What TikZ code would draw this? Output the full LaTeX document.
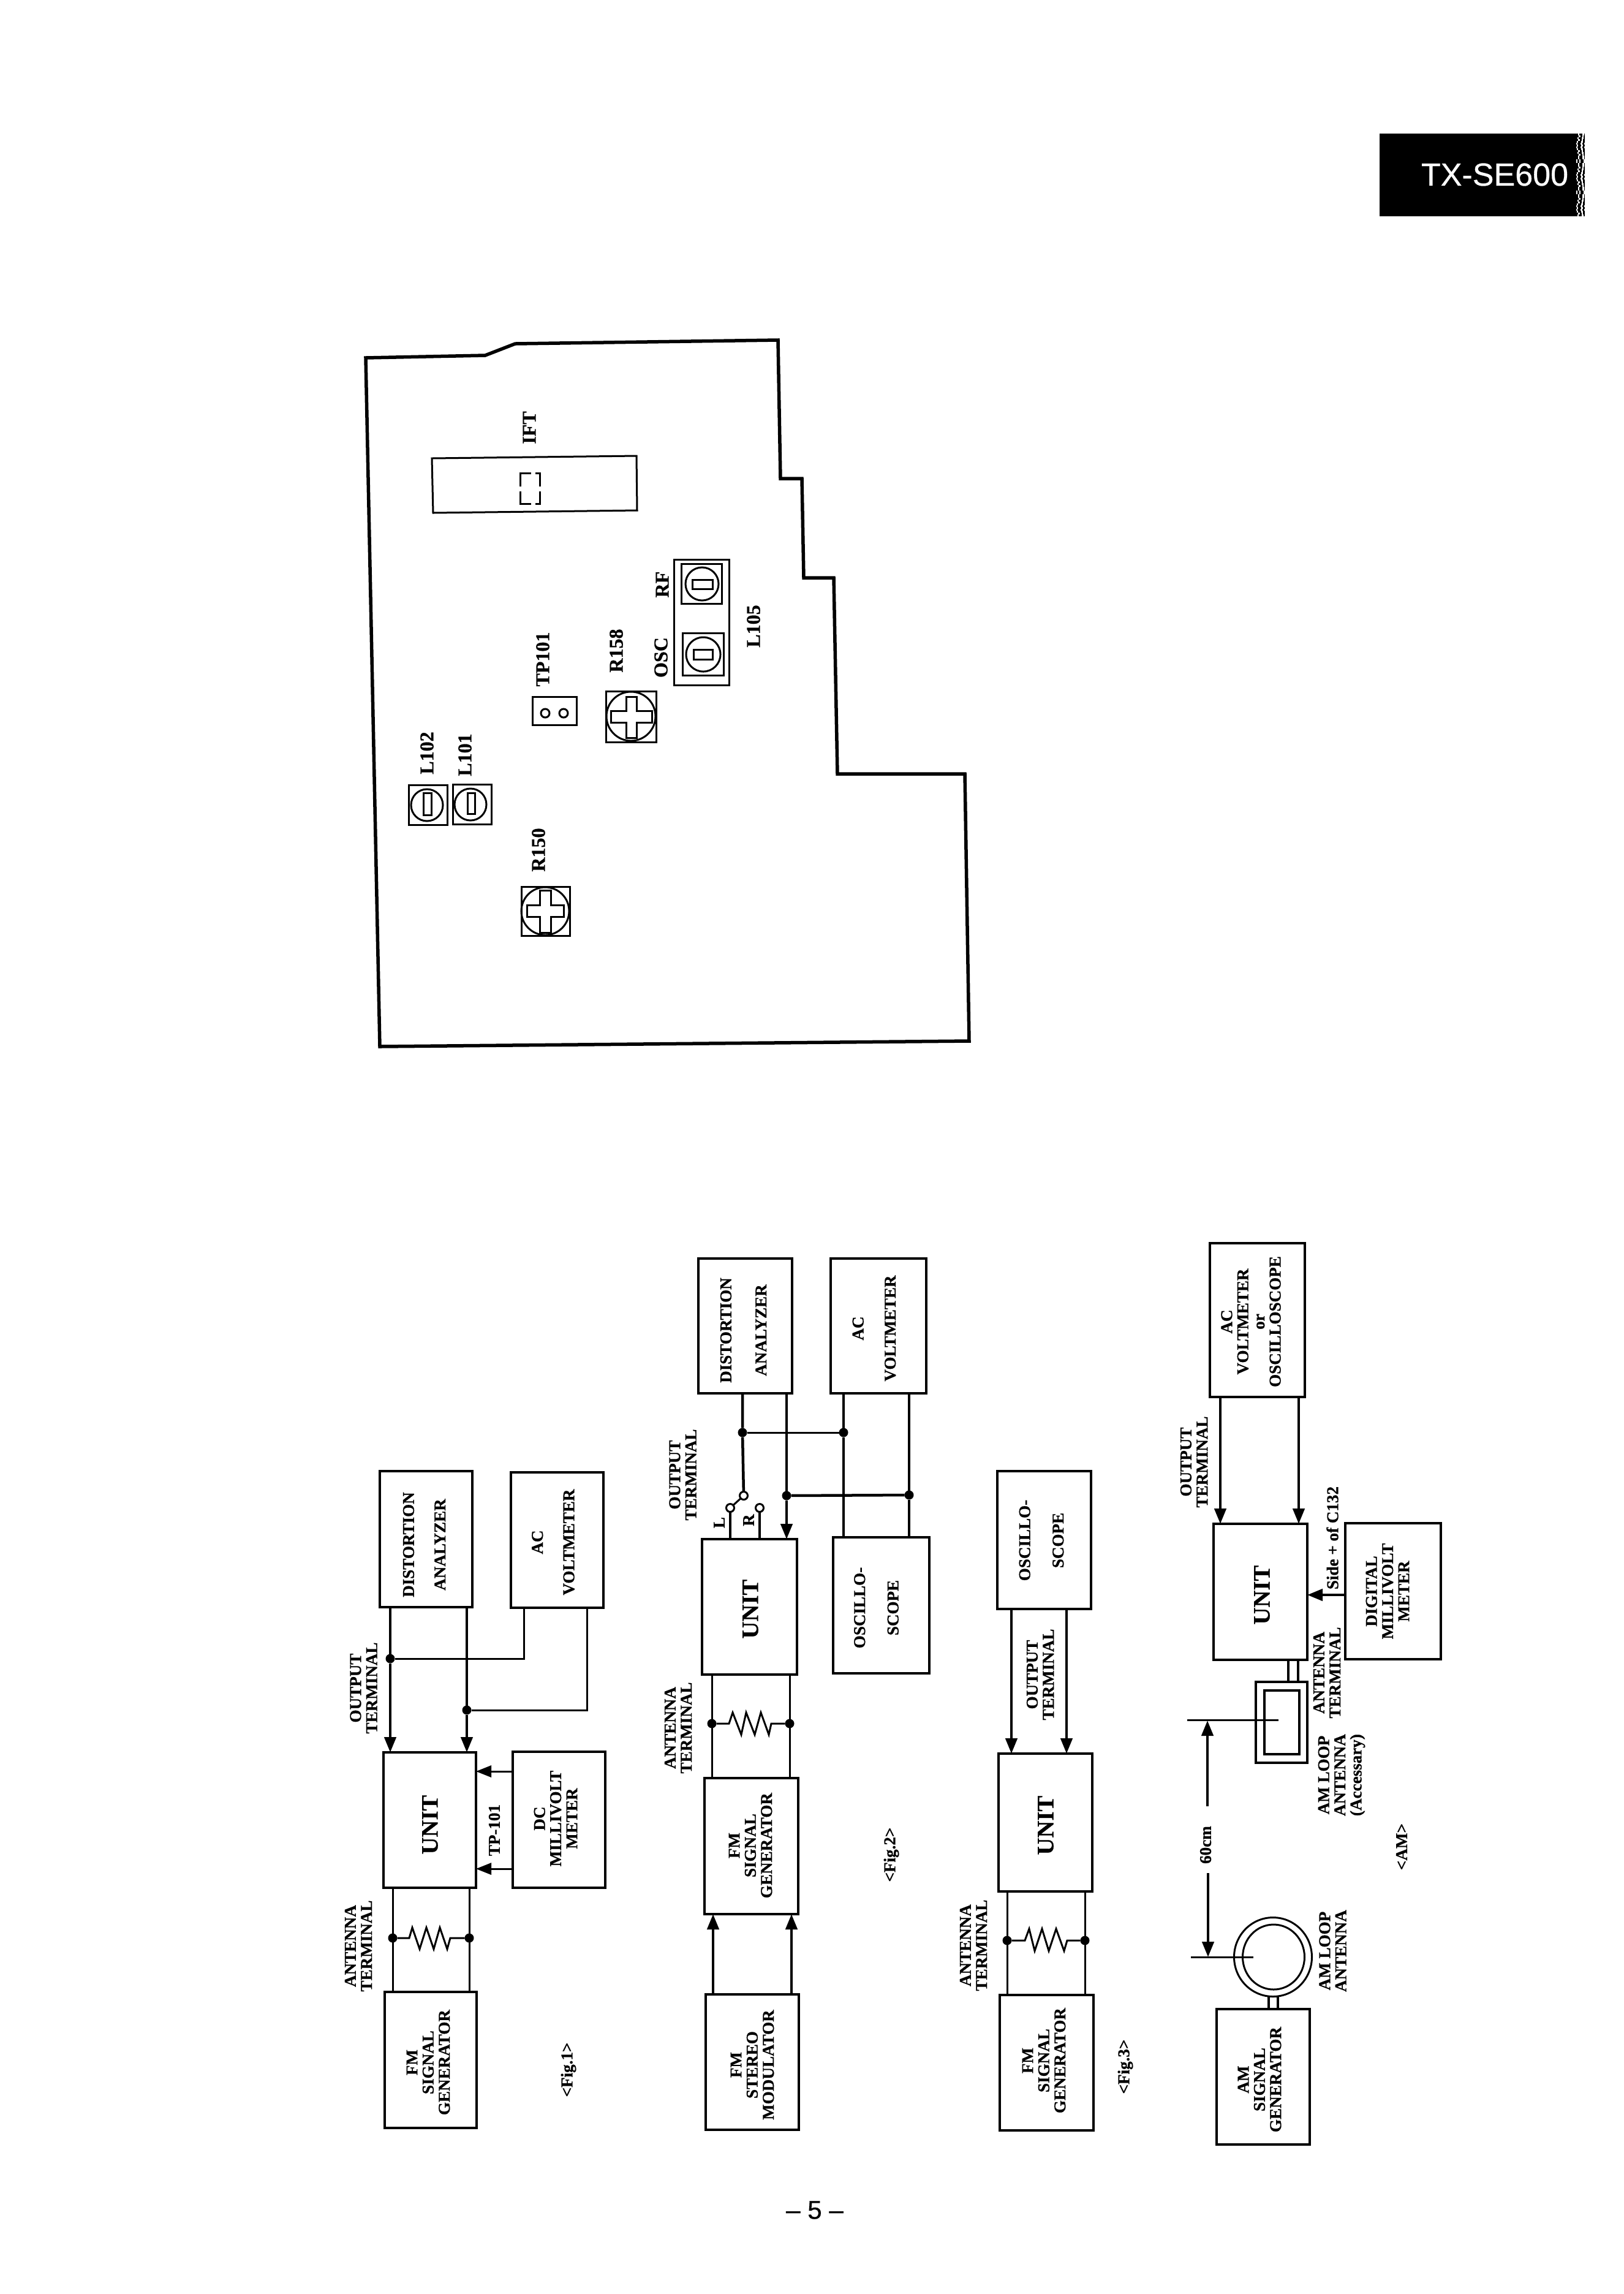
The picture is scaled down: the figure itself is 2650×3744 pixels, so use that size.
\documentclass[tikz,border=0pt]{standalone}
\usepackage{fontspec}
\setmainfont[BoldFeatures={FakeBold=0.7}]{Liberation Serif}
\newfontfamily\hdrfont[FakeBold=0.5]{Liberation Sans}
\usetikzlibrary{arrows.meta}
\tikzset{
  blk/.style={draw,line width=0.035cm,rectangle,inner sep=0pt,outer sep=0pt,fill=white},
  wire/.style={line width=0.045cm},
  thin wire/.style={line width=0.03cm},
  headed/.style={-{Triangle[length=0.25cm,width=0.19cm]}},
  dot/.style={circle,fill=black,inner sep=0pt,outer sep=0pt,minimum size=0.15cm},
  term/.style={circle,draw,line width=0.03cm,fill=white,inner sep=0pt,outer sep=0pt,minimum size=0.13cm},
  lab/.style={rotate=90,inner sep=0pt,align=center,font=\bfseries\fontsize{7.7}{7.5}\selectfont},
  biglab/.style={rotate=90,inner sep=0pt,align=center,font=\bfseries\fontsize{11}{12}\selectfont},
  brdlab/.style={rotate=90,inner sep=0pt,font=\bfseries\fontsize{9.1}{10}\selectfont},
  part/.style={line width=0.03cm},
  edge line/.style={line width=0.055cm,line join=miter}
}
\newcommand{\blkbox}[5]{\node[blk,minimum width={(#4-#2)*0.01cm},minimum height={(#5-#3)*0.01cm}] (#1) at ({(#2+#4)/2},{(#3+#5)/2}) {};}
\begin{document}
\begin{tikzpicture}[x=0.01cm,y=-0.01cm]
\useasboundingbox (0,0) rectangle (2650,3744);

% Model tab at the page corner
\fill[black] (2252,218) rectangle (2573,353);
\foreach \i in {0,...,44}{
  \pgfmathsetmacro{\ph}{mod(\i*\i+\i*5,17)*0.01}
  \draw[line width=0.03cm,dash pattern=on 0.03cm off 0.02cm on 0.05cm off 0.03cm,dash phase=\ph cm] (2573,{219+\i*3}) -- (2587,{219+\i*3});
}
\node[text=white,inner sep=0pt,font=\hdrfont\fontsize{14.8}{16}\selectfont] (model) at (2440,285) {TX-SE600};

% Board outline
\draw[edge line] (597,584) -- (792,580) -- (841,561) -- (1270,555) -- (1274,781) -- (1309,781) -- (1312,943) -- (1361,943) -- (1367,1263) -- (1575,1263) -- (1582,1699) -- (620,1708) -- cycle;

% IFT block
\draw[part] (705,748) -- (1039,744) -- (1040,833) -- (707,837) -- cycle;
\draw[part] (867,772) -- (849,772) -- (849,794);
\draw[part] (849,802) -- (849,822) -- (867,822);
\draw[part] (874,772) -- (881,772) -- (881,794);
\draw[part] (881,802) -- (881,822) -- (874,822);
\node[brdlab] (ift) at (864,698) {IFT};

% Coils L102, L101
\draw[part] (667,1281) rectangle (730,1346);
\draw[part] (697,1314) circle (0.26cm);
\draw[part] (691,1294) rectangle (704,1330);
\node[brdlab] (l102) at (697,1229) {L102};
\draw[part] (739,1280) rectangle (802,1345);
\draw[part] (768,1313) circle (0.26cm);
\draw[part] (763,1294) rectangle (775,1328);
\node[brdlab] (l101) at (759,1232) {L101};

% Trimmer R150
\draw[part] (851,1447) rectangle (930,1527);
\draw[part] (890,1487) circle (0.39cm);
\draw[part,fill=white] (860,1477) -- (881,1477) -- (881,1453) -- (899,1453) -- (899,1477) -- (920,1477) -- (920,1496) -- (899,1496) -- (899,1522) -- (881,1522) -- (881,1496) -- (860,1496) -- cycle;
\node[brdlab] (r150) at (879,1387) {R150};

% Trimmer R158
\draw[part] (989,1128) rectangle (1071,1211);
\draw[part] (1030,1169) circle (0.40cm);
\draw[part,fill=white] (997,1160) -- (1022,1160) -- (1022,1137) -- (1039,1137) -- (1039,1160) -- (1064,1160) -- (1064,1179) -- (1039,1179) -- (1039,1204) -- (1022,1204) -- (1022,1179) -- (997,1179) -- cycle;
\node[brdlab] (r158) at (1006,1062) {R158};

% Test point TP101
\draw[part] (869,1137) rectangle (941,1183);
\draw[part] (890,1164) circle (0.07cm);
\draw[part] (920,1164) circle (0.07cm);
\node[brdlab] (tp101) at (886,1076) {TP101};

% Dual coil L105
\draw[part] (1100,913) rectangle (1190,1118);
\draw[part] (1112,920) rectangle (1178,985);
\draw[part] (1146,953) circle (0.27cm);
\draw[part] (1130,946) rectangle (1163,961);
\draw[part] (1114,1033) rectangle (1181,1102);
\draw[part] (1148,1068) circle (0.28cm);
\draw[part] (1132,1060) rectangle (1163,1076);
\node[brdlab] (osc) at (1079,1073) {OSC};
\node[brdlab] (rf) at (1081,954) {RF};
\node[brdlab] (l105) at (1230,1022) {L105};

% ---- Fig.1 ----
\blkbox{adist}{620}{2401}{771}{2623}
\blkbox{aac}{834}{2403}{985}{2624}
\blkbox{aunit}{626}{2860}{777}{3081}
\blkbox{adc}{837}{2859}{988}{3081}
\blkbox{agen}{628}{3251}{778}{3473}
\node[lab] at (692.5,2521) {DISTORTION\\[7.1pt]ANALYZER};
\node[lab] at (903,2517) {AC\\[7.1pt]VOLTMETER};
\node[biglab] at (702,2978) {UNIT};
\node[lab] at (907,2968) {DC\\MILLIVOLT\\METER};
\node[lab] at (699,3366) {FM\\SIGNAL\\GENERATOR};
\node[lab] at (593.5,2755) {OUTPUT\\TERMINAL};
\node[lab] at (585,3176) {ANTENNA\\TERMINAL};
\node[lab] at (807,2987) {TP-101};
\node[lab] at (928,3378) {<Fig.1>};
\node[dot] (aj1) at (637,2707) {};
\node[dot] (aj2) at (762,2791) {};
\node[dot] (ar1) at (641,3163) {};
\node[dot] (ar2) at (766,3163) {};
\coordinate (ap1) at (855,2707);
\coordinate (ap2) at (958,2791);
\coordinate (atp1) at (0,2891);
\coordinate (atp2) at (0,3050);
\draw[wire] (adist.south -| aj1) -- (aj1);
\draw[wire,headed] (aj1) -- (aunit.north -| aj1);
\draw[wire] (adist.south -| aj2) -- (aj2);
\draw[wire,headed] (aj2) -- (aunit.north -| aj2);
\draw[thin wire] (aj1) -- (ap1) -- (aac.south -| ap1);
\draw[thin wire] (aj2) -- (ap2) -- (aac.south -| ap2);
\draw[thin wire,headed] (adc.west |- atp1) -- (aunit.east |- atp1);
\draw[thin wire,headed] (adc.west |- atp2) -- (aunit.east |- atp2);
\draw[thin wire] (aunit.south -| ar1) -- (agen.north -| ar1);
\draw[thin wire] (aunit.south -| ar2) -- (agen.north -| ar2);
\draw[thin wire] (ar1) -- (668,3163) -- (673,3146) -- (685,3181) -- (696,3146) -- (708,3181) -- (718,3146) -- (730,3181) -- (735,3163) -- (ar2);

% ---- Fig.2 ----
\blkbox{bdist}{1140}{2054}{1293}{2274}
\blkbox{bac}{1356}{2054}{1512}{2274}
\blkbox{bunit}{1146}{2512}{1301}{2733}
\blkbox{bosc}{1360}{2509}{1517}{2731}
\blkbox{bgen}{1150}{2902}{1303}{3124}
\blkbox{bmod}{1152}{3255}{1304}{3476}
\node[lab] at (1213.5,2171) {DISTORTION\\[8.8pt]ANALYZER};
\node[lab] at (1427,2168) {AC\\[7.4pt]VOLTMETER};
\node[biglab] at (1225,2626) {UNIT};
\node[lab] at (1430.5,2624) {OSCILLO-\\[8pt]SCOPE};
\node[lab] at (1225,3012) {FM\\SIGNAL\\GENERATOR};
\node[lab] at (1228,3370) {FM\\STEREO\\MODULATOR};
\node[lab] at (1114.5,2407) {OUTPUT\\TERMINAL};
\node[lab] at (1107,2820) {ANTENNA\\TERMINAL};
\node[lab] at (1174,2485) {L};
\node[lab] at (1222,2481) {R};
\node[lab] at (1455,3027) {<Fig.2>};
\node[dot] (bj1) at (1212,2338) {};
\node[dot] (bj2) at (1284,2441) {};
\node[dot] (bj3) at (1377,2338) {};
\node[dot] (bj4) at (1484,2440) {};
\node[dot] (br1) at (1162,2813) {};
\node[dot] (br2) at (1289,2813) {};
\node[term] (bsw) at (1214,2441) {};
\node[term] (bswl) at (1192,2461) {};
\node[term] (bswr) at (1240,2461) {};
\coordinate (bin1) at (1164,0);
\coordinate (bin2) at (1292,0);
\draw[wire] (bdist.south -| bj1) -- (bj1) -- (bsw);
\draw[wire] (bdist.south -| bj2) -- (bj2);
\draw[wire,headed] (bj2) -- (bunit.north -| bj2);
\draw[thin wire] (bj1) -- (bj3);
\draw[wire] (bj2) -- (bj4);
\draw[wire] (bac.south -| bj3) -- (bj3) -- (bosc.north -| bj3);
\draw[wire] (bac.south -| bj4) -- (bj4) -- (bosc.north -| bj4);
\draw[thin wire] (bsw) -- (bswl);
\draw[wire] (bswl) -- (bunit.north -| bswl);
\draw[wire] (bswr) -- (bunit.north -| bswr);
\draw[wire,headed] (bmod.north -| bin1) -- (bgen.south -| bin1);
\draw[wire,headed] (bmod.north -| bin2) -- (bgen.south -| bin2);
\draw[thin wire] (bunit.south -| br1) -- (bgen.north -| br1);
\draw[thin wire] (bunit.south -| br2) -- (bgen.north -| br2);
\draw[thin wire] (br1) -- (1190,2813) -- (1196,2795) -- (1210,2831) -- (1218,2795) -- (1232,2831) -- (1242,2795) -- (1255,2831) -- (1259,2813) -- (br2);

% ---- Fig.3 ----
\blkbox{cosc}{1628}{2401}{1781}{2626}
\blkbox{cunit}{1630}{2862}{1783}{3087}
\blkbox{cgen}{1632}{3256}{1785}{3477}
\node[lab] at (1700,2514) {OSCILLO-\\[8pt]SCOPE};
\node[biglab] at (1707,2979) {UNIT};
\node[lab] at (1704,3363) {FM\\SIGNAL\\GENERATOR};
\node[lab] at (1698,2733) {OUTPUT\\TERMINAL};
\node[lab] at (1589,3175) {ANTENNA\\TERMINAL};
\node[lab] at (1837,3373) {<Fig.3>};
\node[dot] (cr1) at (1644,3167) {};
\node[dot] (cr2) at (1771,3167) {};
\coordinate (cin1) at (1651,0);
\coordinate (cin2) at (1741,0);
\draw[wire,headed] (cosc.south -| cin1) -- (cunit.north -| cin1);
\draw[wire,headed] (cosc.south -| cin2) -- (cunit.north -| cin2);
\draw[thin wire] (cunit.south -| cr1) -- (cgen.north -| cr1);
\draw[thin wire] (cunit.south -| cr2) -- (cgen.north -| cr2);
\draw[thin wire] (cr1) -- (1673,3167) -- (1680,3148) -- (1689,3184) -- (1701,3148) -- (1712,3184) -- (1724,3148) -- (1737,3184) -- (1742,3167) -- (cr2);

% ---- AM set-up ----
\blkbox{dvolt}{1975}{2029}{2130}{2280}
\blkbox{dunit}{1981}{2487}{2134}{2709}
\blkbox{ddig}{2196}{2486}{2352}{2708}
\blkbox{dloop}{2050}{2745}{2134}{2877}
\blkbox{dinner}{2064}{2759}{2121}{2863}
\blkbox{dgen}{1986}{3279}{2138}{3500}
\node[lab] at (2042,2157) {AC\\VOLTMETER\\or\\OSCILLOSCOPE};
\node[biglab] at (2060,2603) {UNIT};
\node[lab] at (2265,2597) {DIGITAL\\MILLIVOLT\\METER};
\node[lab] at (2056,3394) {AM\\SIGNAL\\GENERATOR};
\node[lab] at (1949,2386) {OUTPUT\\TERMINAL};
\node[lab] at (2166,2730) {ANTENNA\\TERMINAL};
\node[lab] at (2175,2510) {Side + of C132};
\node[lab] at (2175.5,3184) {AM LOOP\\ANTENNA};
\node[lab] at (2190,2897) {AM LOOP\\ANTENNA\\(Accessary)};
\node[lab] (dlen) at (1968,3011) {60cm};
\node[lab] at (2288,3014) {<AM>};
\coordinate (din1) at (1992,0);
\coordinate (din2) at (2120,0);
\coordinate (dsense) at (0,2603);
\coordinate (dw1) at (2103,0);
\coordinate (dw2) at (2119,0);
\draw[wire,headed] (dvolt.south -| din1) -- (dunit.north -| din1);
\draw[wire,headed] (dvolt.south -| din2) -- (dunit.north -| din2);
\draw[wire,headed] (ddig.west |- dsense) -- (dunit.east |- dsense);
\draw[wire] (dunit.south -| dw1) -- (dloop.north -| dw1);
\draw[wire] (dunit.south -| dw2) -- (dloop.north -| dw2);
% Loop antenna of the generator
\draw[thin wire] (2078,3194) ellipse [x radius=63.5,y radius=64.5];
\draw[thin wire] (2079,3194) ellipse [x radius=50.5,y radius=53];
\coordinate (dn1) at (2071,3257);
\coordinate (dn2) at (2086,3257);
\draw[wire] (dn1) -- (dgen.north -| dn1);
\draw[wire] (dn2) -- (dgen.north -| dn2);
% Spacing dimension between the two loops
\coordinate (de1) at (1938,2807);
\coordinate (de2) at (2087,2807);
\coordinate (de3) at (1944,3194);
\coordinate (de4) at (2046,3194);
\draw[thin wire] (de1) -- (de2);
\draw[thin wire] (de3) -- (de4);
\draw[wire,headed] (1971,2948) -- (1971,2808);
\draw[wire,headed] (1972,3057) -- (1972,3194);

% Page number
\node[inner sep=0pt,font=\hdrfont\fontsize{12}{14}\selectfont] (page) at (1330,3607) {– 5 –};
\end{tikzpicture}
\end{document}
